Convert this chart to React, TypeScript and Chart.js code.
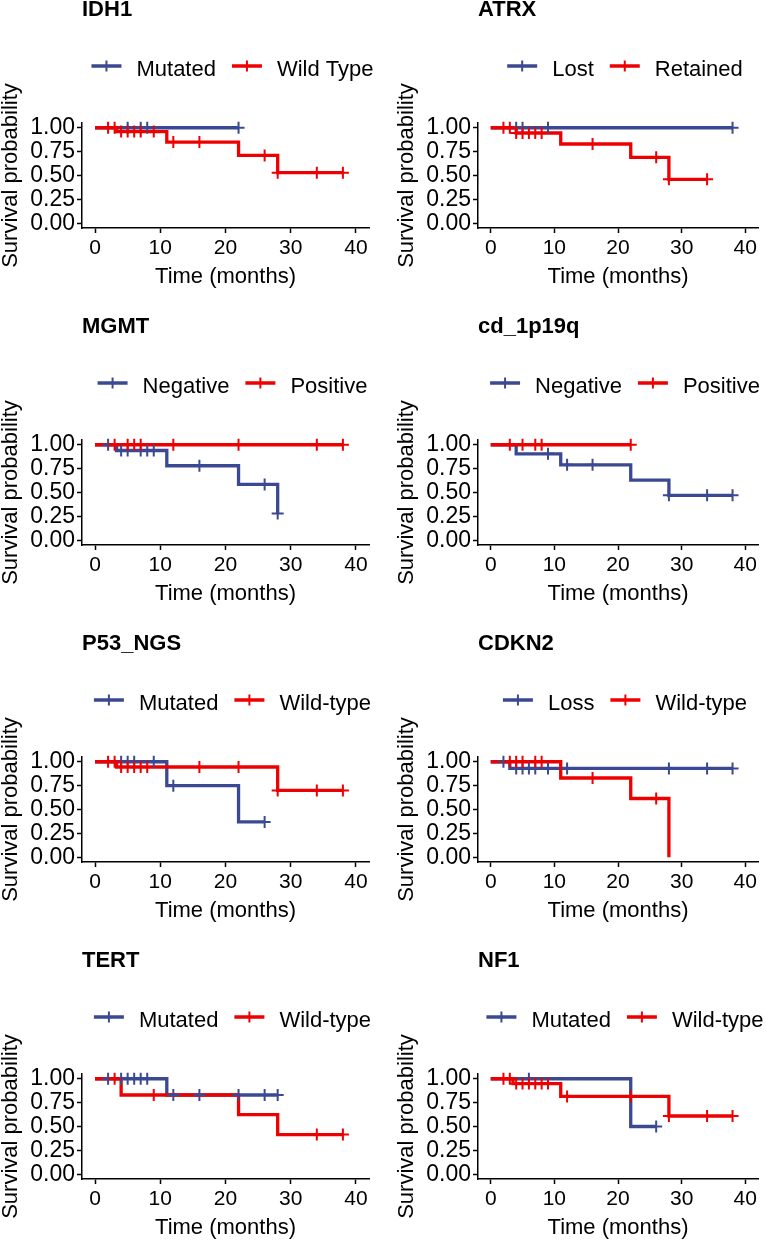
import React, { useEffect, useRef } from "react";
import { Chart, registerables } from "chart.js";

Chart.register(...registerables);

// ---------------- DATA ----------------
const X_TICKS = [0, 10, 20, 30, 40];
const Y_TICKS = [0, 0.25, 0.5, 0.75, 1];
const X_TITLE = "Time (months)";
const Y_TITLE = "Survival probability";

// IDH1
const IDH1_LABELS = ["Mutated", "Wild Type"];
const IDH1_A_EVENT_T: number[] = [];
const IDH1_A_EVENT_S: number[] = [];
const IDH1_A_CENSOR_T = [5, 7, 8, 22];
const IDH1_B_EVENT_T = [3.3, 11, 22, 28];
const IDH1_B_EVENT_S = [0.96, 0.85, 0.71, 0.53];
const IDH1_B_CENSOR_T = [2, 3, 4, 5, 6, 7, 9, 12, 16, 26, 28, 34, 38];

// ATRX
const ATRX_LABELS = ["Lost", "Retained"];
const ATRX_A_EVENT_T: number[] = [];
const ATRX_A_EVENT_S: number[] = [];
const ATRX_A_CENSOR_T = [4, 5, 9, 38];
const ATRX_B_EVENT_T = [4, 11, 22, 28];
const ATRX_B_EVENT_S = [0.945, 0.83, 0.69, 0.46];
const ATRX_B_CENSOR_T = [2, 3, 4, 5, 6, 7, 8, 16, 26, 28, 34];

// MGMT
const MGMT_LABELS = ["Negative", "Positive"];
const MGMT_A_EVENT_T = [3.3, 11, 22, 28];
const MGMT_A_EVENT_S = [0.94, 0.78, 0.585, 0.28];
const MGMT_A_CENSOR_T = [2, 4, 5, 7, 8, 9, 16, 26, 28];
const MGMT_B_EVENT_T: number[] = [];
const MGMT_B_EVENT_S: number[] = [];
const MGMT_B_CENSOR_T = [3, 5, 6, 7, 12, 22, 34, 38];

// cd_1p19q
const CD_LABELS = ["Negative", "Positive"];
const CD_A_EVENT_T = [4, 11, 22, 28];
const CD_A_EVENT_S = [0.905, 0.79, 0.63, 0.47];
const CD_A_CENSOR_T = [9, 12, 16, 28, 34, 38];
const CD_B_EVENT_T: number[] = [];
const CD_B_EVENT_S: number[] = [];
const CD_B_CENSOR_T = [3, 5, 7, 8, 22];

// P53_NGS
const P53_LABELS = ["Mutated", "Wild-type"];
const P53_A_EVENT_T = [11, 22];
const P53_A_EVENT_S = [0.75, 0.37];
const P53_A_CENSOR_T = [4, 5, 6, 9, 12, 26];
const P53_B_EVENT_T = [3.3, 28];
const P53_B_EVENT_S = [0.945, 0.7];
const P53_B_CENSOR_T = [2, 3, 4, 5, 6, 7, 8, 16, 22, 28, 34, 38];

// CDKN2
const CDKN2_LABELS = ["Loss", "Wild-type"];
const CDKN2_A_EVENT_T = [3];
const CDKN2_A_EVENT_S = [0.93];
const CDKN2_A_CENSOR_T = [2, 4, 5, 6, 7, 9, 12, 28, 34, 38];
const CDKN2_B_EVENT_T = [11, 22, 28];
const CDKN2_B_EVENT_S = [0.83, 0.615, 0];
const CDKN2_B_CENSOR_T = [3, 4, 5, 7, 8, 16, 26];

// TERT
const TERT_LABELS = ["Mutated", "Wild-type"];
const TERT_A_EVENT_T = [11];
const TERT_A_EVENT_S = [0.83];
const TERT_A_CENSOR_T = [2, 4, 5, 6, 7, 8, 12, 16, 22, 26, 28];
const TERT_B_EVENT_T = [4, 22, 28];
const TERT_B_EVENT_S = [0.83, 0.625, 0.415];
const TERT_B_CENSOR_T = [3, 9, 34, 38];

// NF1
const NF1_LABELS = ["Mutated", "Wild-type"];
const NF1_A_EVENT_T = [22];
const NF1_A_EVENT_S = [0.5];
const NF1_A_CENSOR_T = [6, 26];
const NF1_B_EVENT_T = [3.5, 11, 28];
const NF1_B_EVENT_S = [0.95, 0.815, 0.61];
const NF1_B_CENSOR_T = [2, 3, 4, 5, 6, 7, 8, 9, 12, 22, 28, 34, 38];

// ---------------- STYLE ----------------
const BLUE = "#3B4992";
const RED = "#EE0000";
const FONT = '"Liberation Sans", Arial, sans-serif';

type Group = { label: string; evT: number[]; evS: number[]; cenT: number[]; color: string };
type Panel = { title: string; groups: Group[] };

function mk(title: string, labels: string[], a: [number[], number[], number[]], b: [number[], number[], number[]]): Panel {
  return {
    title,
    groups: [
      { label: labels[0], evT: a[0], evS: a[1], cenT: a[2], color: BLUE },
      { label: labels[1], evT: b[0], evS: b[1], cenT: b[2], color: RED },
    ],
  };
}

const PANELS: Panel[] = [
  mk("IDH1", IDH1_LABELS, [IDH1_A_EVENT_T, IDH1_A_EVENT_S, IDH1_A_CENSOR_T], [IDH1_B_EVENT_T, IDH1_B_EVENT_S, IDH1_B_CENSOR_T]),
  mk("ATRX", ATRX_LABELS, [ATRX_A_EVENT_T, ATRX_A_EVENT_S, ATRX_A_CENSOR_T], [ATRX_B_EVENT_T, ATRX_B_EVENT_S, ATRX_B_CENSOR_T]),
  mk("MGMT", MGMT_LABELS, [MGMT_A_EVENT_T, MGMT_A_EVENT_S, MGMT_A_CENSOR_T], [MGMT_B_EVENT_T, MGMT_B_EVENT_S, MGMT_B_CENSOR_T]),
  mk("cd_1p19q", CD_LABELS, [CD_A_EVENT_T, CD_A_EVENT_S, CD_A_CENSOR_T], [CD_B_EVENT_T, CD_B_EVENT_S, CD_B_CENSOR_T]),
  mk("P53_NGS", P53_LABELS, [P53_A_EVENT_T, P53_A_EVENT_S, P53_A_CENSOR_T], [P53_B_EVENT_T, P53_B_EVENT_S, P53_B_CENSOR_T]),
  mk("CDKN2", CDKN2_LABELS, [CDKN2_A_EVENT_T, CDKN2_A_EVENT_S, CDKN2_A_CENSOR_T], [CDKN2_B_EVENT_T, CDKN2_B_EVENT_S, CDKN2_B_CENSOR_T]),
  mk("TERT", TERT_LABELS, [TERT_A_EVENT_T, TERT_A_EVENT_S, TERT_A_CENSOR_T], [TERT_B_EVENT_T, TERT_B_EVENT_S, TERT_B_CENSOR_T]),
  mk("NF1", NF1_LABELS, [NF1_A_EVENT_T, NF1_A_EVENT_S, NF1_A_CENSOR_T], [NF1_B_EVENT_T, NF1_B_EVENT_S, NF1_B_CENSOR_T]),
];

function survAt(g: Group, t: number) {
  let s = 1;
  g.evT.forEach((e, i) => {
    if (e <= t) s = g.evS[i];
  });
  return s;
}

function stepPoints(g: Group) {
  const pts = [{ x: 0, y: 1 }];
  g.evT.forEach((t, i) => pts.push({ x: t, y: g.evS[i] }));
  const lastEv = g.evT.length ? g.evT[g.evT.length - 1] : 0;
  const end = Math.max(lastEv, ...g.cenT);
  if (end > lastEv) pts.push({ x: end, y: survAt(g, end) });
  return pts;
}

const CANVAS_W = 383;
const CANVAS_H = 317;

function KMPanel({ panel, col, row }: { panel: Panel; col: number; row: number }) {
  const ref = useRef<HTMLCanvasElement>(null);
  useEffect(() => {
    const header = {
      id: "ggHeader",
      afterDraw(chart: any) {
        const { ctx, chartArea } = chart;
        ctx.save();
        // title
        ctx.fillStyle = "#000";
        ctx.font = `bold 22px ${FONT}`;
        ctx.textAlign = "left";
        ctx.textBaseline = "alphabetic";
        ctx.fillText(panel.title, chartArea.left, chartArea.top - 107);
        // legend
        ctx.font = `22px ${FONT}`;
        const keyW = 30, gapKT = 15, gapIT = 16;
        const widths = panel.groups.map((g) => ctx.measureText(g.label).width);
        const total = widths.reduce((s, w) => s + keyW + gapKT + w, 0) + gapIT * (panel.groups.length - 1);
        let x = (chartArea.left + chartArea.right) / 2 + 7 - total / 2;
        const ky = chartArea.top - 57;
        panel.groups.forEach((g, i) => {
          ctx.strokeStyle = g.color;
          ctx.lineWidth = 3.5;
          ctx.beginPath();
          ctx.moveTo(x, ky);
          ctx.lineTo(x + keyW, ky);
          ctx.stroke();
          ctx.lineWidth = 2;
          ctx.beginPath();
          ctx.moveTo(x + keyW / 2, ky - 5.5);
          ctx.lineTo(x + keyW / 2, ky + 5.5);
          ctx.stroke();
          ctx.fillStyle = "#000";
          ctx.fillText(g.label, x + keyW + gapKT, ky + 9.5);
          x += keyW + gapKT + widths[i] + gapIT;
        });
        ctx.restore();
      },
    };

    const datasets: any[] = [];
    panel.groups.forEach((g, i) => {
      datasets.push({
        type: "line",
        data: stepPoints(g),
        borderColor: g.color,
        backgroundColor: g.color,
        borderWidth: 3.3,
        pointRadius: 0,
        stepped: true,
        fill: false,
        clip: false,
        order: 10 - i,
      });
    });
    panel.groups.forEach((g, i) => {
      datasets.push({
        type: "scatter",
        data: g.cenT.map((t) => ({ x: t, y: survAt(g, t) })),
        borderColor: g.color,
        backgroundColor: g.color,
        pointStyle: "cross",
        pointRadius: 6,
        pointBorderWidth: 2,
        borderWidth: 2,
        showLine: false,
        clip: false,
        order: 5 - i,
      });
    });

    const tickGrid = {
      display: true,
      drawOnChartArea: false,
      drawTicks: true,
      tickLength: 5,
      tickColor: "#000",
      tickWidth: 1.5,
      color: "#000",
    };

    const chart = new Chart(ref.current!, {
      type: "line",
      data: { datasets },
      plugins: [header],
      options: {
        animation: false,
        responsive: false,
        events: [],
        layout: {
          padding: { top: 123, bottom: 9, left: col === 0 ? 0 : 13, right: col === 0 ? 14 : 2 },
        },
        plugins: {
          legend: { display: false },
          title: { display: false },
          tooltip: { enabled: false },
        },
        scales: {
          x: {
            type: "linear",
            min: -2,
            max: 42,
            afterBuildTicks: (s: any) => {
              s.ticks = X_TICKS.map((v) => ({ value: v }));
            },
            afterFit: (s: any) => {
              s.height = 80;
            },
            ticks: {
              autoSkip: false,
              maxRotation: 0,
              padding: 3,
              color: "#000",
              font: { family: FONT, size: 21, lineHeight: 1.2 },
              callback: (v: any) => String(v),
            },
            grid: tickGrid,
            border: { display: true, color: "#000", width: 1.5 },
            title: {
              display: true,
              text: X_TITLE,
              color: "#000",
              font: { family: FONT, size: 22, lineHeight: 1 },
              padding: { top: 0, bottom: 20 },
            },
          },
          y: {
            type: "linear",
            min: -0.05,
            max: 1.05,
            afterBuildTicks: (s: any) => {
              s.ticks = Y_TICKS.map((v) => ({ value: v }));
            },
            afterFit: (s: any) => {
              s.width = 82;
            },
            ticks: {
              autoSkip: false,
              padding: 2,
              color: "#000",
              font: { family: FONT, size: 23, lineHeight: 1.2 },
              callback: (v: any) => Number(v).toFixed(2),
            },
            grid: tickGrid,
            border: { display: true, color: "#000", width: 1.5 },
            title: {
              display: true,
              text: Y_TITLE,
              color: "#000",
              font: { family: FONT, size: 22, lineHeight: 1 },
              padding: { top: 0, bottom: 0 },
            },
          },
        },
      } as any,
    });
    return () => chart.destroy();
  }, [panel, col, row]);

  return (
    <canvas
      ref={ref}
      width={CANVAS_W}
      height={CANVAS_H}
      style={{
        position: "absolute",
        left: col * CANVAS_W,
        top: row * CANVAS_H,
        width: CANVAS_W,
        height: CANVAS_H,
        display: "block",
      }}
    />
  );
}

export default function App() {
  return (
    <div
      style={{
        position: "absolute",
        left: 0,
        top: 0,
        width: 766,
        height: 1240,
        overflow: "hidden",
        background: "#fff",
      }}
    >
      {PANELS.map((p, i) => (
        <KMPanel key={p.title} panel={p} col={i % 2} row={Math.floor(i / 2)} />
      ))}
    </div>
  );
}
